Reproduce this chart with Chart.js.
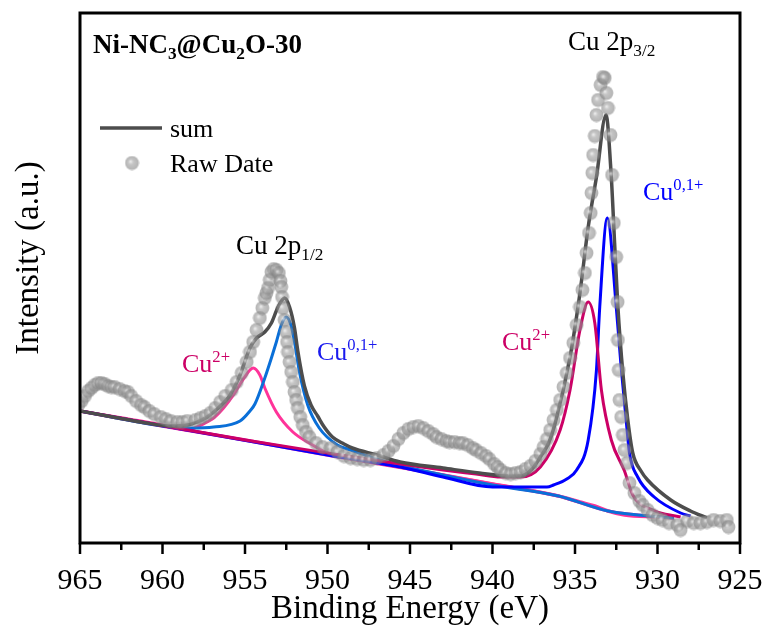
<!DOCTYPE html>
<html>
<head>
<meta charset="utf-8">
<script src="https://cdn.jsdelivr.net/npm/chart.js@4.4.1/dist/chart.umd.min.js"></script>
<style>
  body { margin: 0; background: #fff; }
  canvas { display: block; }
</style>
</head>
<body>
<canvas id="xps" width="768" height="632"></canvas>
<script>
// --- data (binding energy in eV, intensity in arbitrary units) ---
const xTicks = [965, 960, 955, 950, 945, 940, 935, 930, 925];

const rawE = [965.1, 964.9, 964.7, 964.5, 964.3, 964.1, 963.9, 963.7, 963.5, 963.3, 963.1, 962.9, 962.6, 962.3, 962.1, 961.9, 961.6, 961.3, 961.1, 960.8,
  960.5, 960.1, 959.8, 959.5, 959.1, 958.8, 958.5, 958.0, 957.7, 957.4, 957.1, 956.8, 956.5, 956.2, 955.8, 955.5, 955.2, 954.9, 954.7, 954.5,
  954.3, 954.1, 953.95, 953.8, 953.7, 953.6, 953.5, 953.4, 953.25, 953.1, 952.95, 952.85, 952.8, 952.75, 952.7, 952.6, 952.5, 952.45, 952.4, 952.3,
  952.2, 952.1, 952.0, 951.9, 951.8, 951.65, 951.5, 951.3, 951.1, 950.7, 950.3, 949.8, 949.4, 949.0, 948.6, 948.2, 947.8, 947.4, 947.0, 946.6,
  946.3, 946.0, 945.7, 945.4, 945.1, 944.8, 944.5, 944.2, 943.9, 943.6, 943.4, 943.1, 942.8, 942.6, 942.3, 942.0, 941.8, 941.5, 941.2, 941.0,
  940.7, 940.4, 940.2, 939.9, 939.7, 939.5, 939.2, 938.9, 938.6, 938.3, 938.0, 937.7, 937.4, 937.1, 936.9, 936.7, 936.5, 936.3, 936.1, 935.9,
  935.7, 935.5, 935.3, 935.1, 934.9, 934.7, 934.55, 934.4, 934.3, 934.15, 934.05, 934.0, 933.95, 933.9, 933.8, 933.7, 933.6, 933.45, 933.3, 933.2,
  933.1, 933.0, 932.85, 932.75, 932.65, 932.5, 932.42, 932.4, 932.35, 932.3, 932.2, 932.1, 932.0, 931.85, 931.7, 931.4, 931.1, 930.9, 930.6, 930.3,
  930.0, 929.7, 929.3, 928.8, 928.6, 928.2, 927.8, 927.4, 927.0, 926.6, 926.2, 925.8, 925.7];
const rawY = [138, 142, 147, 152, 155, 158, 160, 160, 159, 157, 156, 156, 154, 152, 151, 147, 142, 138, 136, 132,
  129, 126, 124, 122, 121, 121, 122, 123, 125, 127, 130, 135, 141, 147, 153, 161, 170, 181, 191, 201,
  213, 225, 235, 245, 250, 255, 263, 271, 274, 273, 270, 262, 256, 246, 235, 223, 211, 201, 191, 181,
  171, 161, 151, 143, 135, 126, 118, 111, 106, 100, 96, 95, 91, 87, 85, 84, 83, 83, 85, 88,
  92, 97, 104, 110, 114, 116, 117, 115, 112, 109, 106, 104, 102, 101, 101, 100, 100, 98, 95, 93,
  90, 87, 84, 79, 76, 73, 70, 69, 70, 71, 74, 77, 82, 89, 96, 104, 113, 123, 133, 143,
  156, 170, 185, 200, 218, 236, 253, 270, 290, 310, 330, 350, 370, 388, 407, 428, 443, 458, 466, 465,
  450, 435, 408, 368, 320, 286, 241, 203, 173, 143, 126, 108, 93, 80, 60, 50, 42, 38, 33, 28,
  25, 23, 20, 18, 13, 22, 20, 20, 21, 23, 22, 23, 16];

const sumE = [965, 963, 961, 959.5, 958.5, 957.9, 957.3, 956.9, 956.3, 955.9, 955.3, 954.7, 954.3, 953.8, 953.4, 953.0, 952.6, 952.3, 952.0, 951.8,
  951.4, 951.0, 950.6, 950.2, 949.7, 949.0, 948.5, 947, 945.6, 943, 940.8, 939, 938.3, 937.6, 937.1, 936.6, 936.2, 935.3, 934.7, 934.2,
  933.7, 933.12, 932.8, 932.6, 932.4, 932.1, 931.8, 931.5, 931.0, 930.6, 929.2, 928, 927];
const sumY = [132, 126, 120, 117, 118, 121, 126, 131, 140, 148, 168, 195, 205, 211, 220, 236, 245, 236, 215, 192,
  157, 138, 127, 116, 106, 99, 95, 88, 81, 75, 70, 67, 67, 74, 86, 100, 120, 186, 250, 316,
  366, 428, 366, 300, 236, 170, 123, 90, 72, 63, 43, 32, 25];

const bgE = [965, 960, 955, 950, 945, 940, 936, 934.7, 933.8, 933, 932, 930, 929];
const bgY = [132, 117, 103, 88, 74, 59, 47, 41, 37, 32, 28, 26, 25];

// Cu 2p1/2 components
const cu2LeftE = [965, 960, 958.5, 957.9, 957.3, 956.9, 956.3, 955.7, 955.1, 954.5, 954.1, 953.8, 953.1, 952.1, 950.9, 950, 948, 945, 940, 936, 933, 929];
const cu2LeftY = [132, 118, 113, 116, 121, 125, 135, 148, 164, 175, 168, 155, 131, 111, 98, 90, 83, 74, 59, 47, 32, 25];
const cu01LeftE = [965, 960, 958.3, 956.9, 955.3, 954.7, 954.4, 953.8, 953.4, 953.1, 952.8, 952.5, 952.2, 952.0, 951.7, 951.2, 950.5, 949.4, 948.6, 946.2, 943, 940, 936, 933, 929];
const cu01LeftY = [132, 117, 115, 116, 122, 132, 139, 165, 185, 201, 218, 226, 217, 201, 171, 138, 115, 98, 93, 80, 68, 58, 47, 32, 25];

// Cu 2p3/2 components
const cu2MainE = [965, 955, 950, 945.6, 943, 941, 939.5, 938.3, 937.1, 935.9, 935.3, 934.7, 934.2, 933.8, 933.4, 932.8, 932.0, 931.5, 930.3, 928.6];
const cu2MainY = [132, 103, 90, 79, 73, 69, 66, 66, 76, 113, 153, 213, 241, 220, 153, 103, 72, 48, 33, 26];
const cu01MainE = [965, 950, 945.6, 943, 940, 938, 936.7, 936.3, 935.5, 934.9, 934.2, 933.7, 933.5, 933.04, 932.5, 932.2, 931.9, 931.7, 931.2, 930.2, 928.6, 928];
const cu01MainY = [132, 88, 76, 66, 56, 56, 56, 58, 64, 73, 103, 173, 236, 325, 236, 175, 123, 90, 66, 46, 30, 27];

const pts = (xs, ys) => xs.map((x, i) => ({ x: x, y: ys[i] }));

// shaded grey ball used for the raw data points
const ball = document.createElement('canvas');
ball.width = 15; ball.height = 15;
(() => {
  const b = ball.getContext('2d');
  const g = b.createRadialGradient(6, 6, 0.5, 7.5, 7.5, 7);
  g.addColorStop(0, 'rgba(230,230,230,0.8)');
  g.addColorStop(0.35, 'rgba(160,160,160,0.62)');
  g.addColorStop(1, 'rgba(128,128,128,0.6)');
  b.fillStyle = g;
  b.beginPath(); b.arc(7.5, 7.5, 6.9, 0, Math.PI * 2); b.fill();
})();

const serif = '"Liberation Serif", "Times New Roman", serif';

// draws text runs with sub/superscripts
function rich(c, parts, x, y, color, size, bold) {
  c.save();
  c.fillStyle = color;
  c.textBaseline = 'alphabetic';
  c.textAlign = 'left';
  const w = bold ? 'bold ' : '';
  parts.forEach(([t, k]) => {
    let s = size, dy = 0;
    if (k === 'sub') { s = size * 0.64; dy = size * 0.24; }
    if (k === 'sup') { s = size * 0.64; dy = -size * 0.38; }
    c.font = w + s + 'px ' + serif;
    c.fillText(t, x, y + dy);
    x += c.measureText(t).width;
  });
  c.restore();
}

const decor = {
  id: 'decor',
  afterDraw(chart) {
    const c = chart.ctx;
    const a = chart.chartArea;
    const xs = chart.scales.x;

    // frame
    c.save();
    c.strokeStyle = '#000';
    c.lineWidth = 3;
    c.strokeRect(a.left, a.top, a.right - a.left, a.bottom - a.top);

    // outward ticks on the bottom axis, minor every 2.5 eV
    c.lineWidth = 2.5;
    for (let v = 925; v <= 965; v += 2.5) {
      const px = xs.getPixelForValue(v);
      const len = v % 5 === 0 ? 11 : 7;
      c.beginPath();
      c.moveTo(px, a.bottom);
      c.lineTo(px, a.bottom + len);
      c.stroke();
    }

    // legend
    c.strokeStyle = '#4d4d4d';
    c.lineWidth = 3.5;
    c.beginPath(); c.moveTo(100, 128); c.lineTo(162, 128); c.stroke();
    c.drawImage(ball, 132 - 7.5, 163 - 7.5);

    // y axis title, sits a little above the plot centre in the original
    c.translate(29, 258);
    c.rotate(-Math.PI / 2);
    c.fillStyle = '#000';
    c.font = '33px ' + serif;
    c.textAlign = 'center';
    c.textBaseline = 'middle';
    c.fillText('Intensity (a.u.)', 0, 0);
    c.restore();

    rich(c, [['sum']], 170, 137, '#000', 26);
    rich(c, [['Raw Date']], 170, 172, '#000', 26);

    // sample name and peak labels
    rich(c, [['Ni-NC'], ['3', 'sub'], ['@Cu'], ['2', 'sub'], ['O-30']], 93, 53, '#000', 27, true);
    rich(c, [['Cu 2p'], ['3/2', 'sub']], 568, 50, '#000', 27);
    rich(c, [['Cu 2p'], ['1/2', 'sub']], 236, 254, '#000', 27);
    rich(c, [['Cu'], ['0,1+', 'sup']], 643, 200, '#0000ff', 26);
    rich(c, [['Cu'], ['2+', 'sup']], 502, 350, '#cc0066', 26);
    rich(c, [['Cu'], ['2+', 'sup']], 182, 372, '#cc0066', 26);
    rich(c, [['Cu'], ['0,1+', 'sup']], 317, 360, '#1a1aee', 26);
  }
};

const curve = (label, xs, ys, color, width) => ({
  label: label,
  data: pts(xs, ys),
  borderColor: color,
  borderWidth: width || 3,
  pointRadius: 0,
  fill: false,
  cubicInterpolationMode: 'monotone'
});

// first dataset is painted last, so the raw points end up on top
new Chart(document.getElementById('xps'), {
  type: 'line',
  data: {
    datasets: [
      {
        label: 'Raw Date',
        data: pts(rawE, rawY),
        showLine: false,
        pointStyle: ball,
        pointRadius: 7
      },
      curve('sum', sumE, sumY, '#4d4d4d', 3.5),
      curve('Cu2+ 2p3/2', cu2MainE, cu2MainY, '#cc0066'),
      curve('Cu0,1+ 2p3/2', cu01MainE, cu01MainY, '#0000ff'),
      curve('Cu0,1+ 2p1/2', cu01LeftE, cu01LeftY, '#0a6fd8'),
      curve('Cu2+ 2p1/2', cu2LeftE, cu2LeftY, '#ff3399'),
      curve('background', bgE, bgY, '#ff3399', 3.5)
    ]
  },
  options: {
    responsive: false,
    animation: false,
    layout: { padding: { top: 13, right: 0, left: 0, bottom: 0 } },
    plugins: { legend: { display: false }, tooltip: { enabled: false } },
    scales: {
      x: {
        type: 'linear',
        reverse: true,
        min: 925,
        max: 965,
        afterBuildTicks: s => { s.ticks = xTicks.map(v => ({ value: v })); },
        ticks: { color: '#000', font: { family: serif, size: 30 }, padding: 12, maxRotation: 0, autoSkip: false },
        grid: { display: false },
        border: { display: false },
        title: { display: true, text: 'Binding Energy (eV)', color: '#000', font: { family: serif, size: 33 }, padding: { top: 0, bottom: 3 } },
        // fixed margins so the plot box lands where the original has it
        afterFit: s => { s.height = 89; s.paddingLeft = 0; s.paddingRight = 28; }
      },
      y: {
        min: 0,
        max: 530,
        ticks: { display: false },
        grid: { display: false },
        border: { display: false },
        title: { display: false },
        afterFit: s => { s.width = 80; }
      }
    }
  },
  plugins: [decor]
});
</script>
</body>
</html>
